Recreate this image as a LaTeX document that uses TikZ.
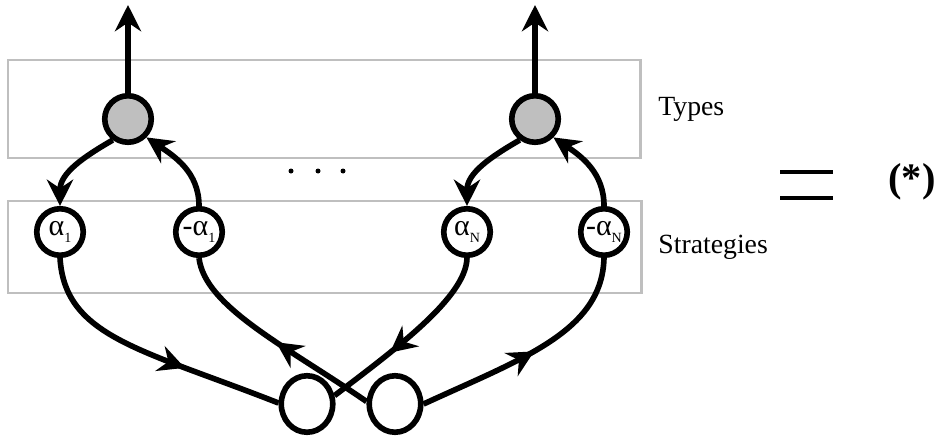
\documentclass[tikz,border=0pt]{standalone}
\usepackage{fontspec}
\setmainfont{Liberation Serif}
\usetikzlibrary{arrows.meta,decorations.markings,shapes.geometric}

\newcommand{\stratlab}[2]{{\fontsize{17}{17}\selectfont #1α}\raisebox{-4pt}{\fontsize{8}{8}\selectfont #2}}

\begin{document}
\begin{tikzpicture}[x=0.02cm,y=0.02cm,
	wire/.style={line width=3.2pt,-{Stealth[length=15pt,width=15pt,inset=5pt]}},
	plain/.style={line width=3.2pt},
	midarrow/.style={postaction={decorate,decoration={markings,mark=at position #1 with {\arrow{Stealth[length=15pt,width=15pt,inset=5pt]}}}}},
	band/.style={draw=lightgray,line width=1.7pt},
	typenode/.style={circle,draw,line width=3.2pt,fill=lightgray,minimum size=0.93cm,inner sep=0pt},
	stratnode/.style={circle,draw,line width=3.2pt,fill=white,minimum size=0.93cm,inner sep=0pt},
	basenode/.style={ellipse,draw,line width=3.2pt,fill=white,minimum width=1.03cm,minimum height=1.13cm,inner sep=0pt},
	lab/.style={font=\fontsize{15.8}{19}\selectfont,anchor=base west,inner sep=0pt}]
	\useasboundingbox (0,0) rectangle (943,437);
	
	%boxes
	\draw[band] (8,279) rectangle (640,377);	%types
	\draw[band] (8,144) rectangle (641,236);	%strategies
	
	%circles
	\node[typenode] (g1) at (128,318) {};
	\node[typenode] (g2) at (535,318) {};
	\node[stratnode] (a1)  at (60,205)  {\stratlab{}{1}};
	\node[stratnode] (na1) at (199,205) {\stratlab{-}{1}};
	\node[stratnode] (aN)  at (467,205) {\stratlab{}{N}};
	\node[stratnode] (naN) at (604,205) {\stratlab{-}{N}};
	\node[basenode] (b1) at (307,33) {};
	\node[basenode] (b2) at (395,33) {};
	\coordinate (t1) at (128,432);
	\coordinate (t2) at (535,432);
	
	%arrows
	\draw[wire] (g1) -- (t1);
	\draw[wire] (g2) -- (t2);
	\draw[wire] (g1.234) to[out=210,in=90] (a1.north);		%g1--a1
	\draw[wire] (na1.north) to[out=90,in=-34] (g1.-45);		%na1--g1
	\draw[wire] (g2.234) to[out=210,in=90] (aN.north);		%g2--aN
	\draw[wire] (naN.north) to[out=90,in=-34] (g2.-45);		%naN--g2
	
	%crossing arrows
	\draw[plain,midarrow=0.64] (a1.south) .. controls (65,100) and (141,88) .. (b1.178);	%a1--b1
	\draw[plain,midarrow=0.48] (b2.175) .. controls (286,91) and (205,130) .. (na1.south);	%b2--na1
	\draw[plain,midarrow=0.64] (aN.south) .. controls (466,140) and (397,89) .. (b1.17);	%aN--b1
	\draw[plain,midarrow=0.5]  (b2.east) .. controls (521,78) and (602,105) .. (naN.south);	%b2--naN
	
	%dots
	\fill (291,266) circle (2.5);
	\fill (318,266) circle (2.5);
	\fill (343,266) circle (2.5);
	
	%labels
	\node[lab] (types) at (658,322) {Types};
	\node[lab] (strat) at (658,184) {Strategies};
	\draw[line width=2.3pt] (780,265) -- (833,265);
	\draw[line width=2.3pt] (780,239) -- (833,239);
	\node[font=\fontsize{23}{27}\selectfont\bfseries,inner sep=0pt] (star) at (912,255) {(*)};
\end{tikzpicture}
\end{document}
